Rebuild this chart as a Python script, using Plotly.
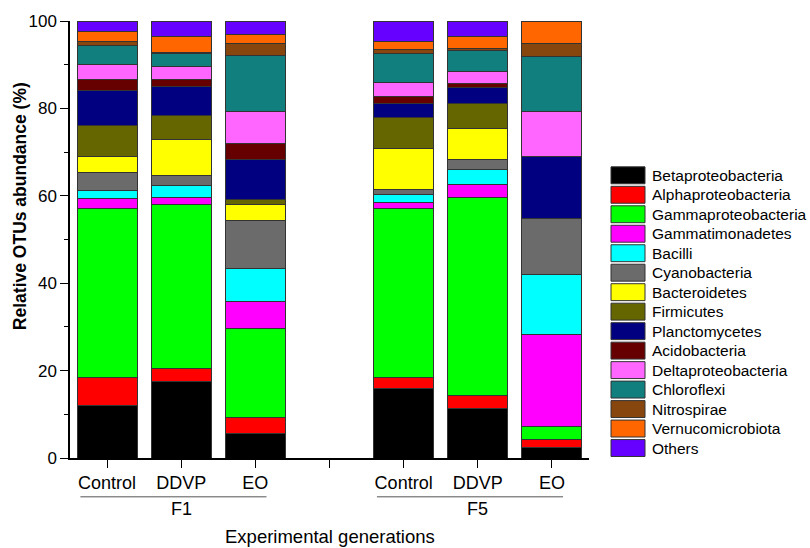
import plotly.graph_objects as go

# Sample layout: two experimental generations, three treatments each
generations = ["F1", "F5"]
treatments = ["Control", "DDVP", "EO"]

# Relative OTU abundance (%) per taxon, order: F1 Control, F1 DDVP, F1 EO, F5 Control, F5 DDVP, F5 EO
taxa = [
    "Betaproteobacteria", "Alphaproteobacteria", "Gammaproteobacteria", "Gammatimonadetes",
    "Bacilli", "Cyanobacteria", "Bacteroidetes", "Firmicutes", "Planctomycetes",
    "Acidobacteria", "Deltaproteobacteria", "Chloroflexi", "Nitrospirae",
    "Vernucomicrobiota", "Others",
]
betaproteobacteria = [12.0, 17.4, 5.5, 15.9, 11.3, 2.5]
alphaproteobacteria = [6.5, 3.0, 3.8, 2.6, 3.1, 1.7]
gammaproteobacteria = [38.7, 37.5, 20.4, 38.6, 45.2, 3.0]
gammatimonadetes = [2.2, 1.8, 6.1, 1.3, 2.9, 21.1]
bacilli = [1.9, 2.6, 7.6, 2.0, 3.5, 13.7]
cyanobacteria = [4.1, 2.4, 10.9, 1.0, 2.4, 12.7]
bacteroidetes = [3.5, 8.1, 3.8, 9.5, 7.1, 0.0]
firmicutes = [7.2, 5.6, 1.0, 7.1, 5.7, 0.0]
planctomycetes = [8.0, 6.5, 9.1, 3.1, 3.6, 14.2]
acidobacteria = [2.6, 1.8, 3.8, 1.6, 0.9, 0.0]
deltaproteobacteria = [3.3, 2.8, 7.3, 3.3, 2.8, 10.3]
chloroflexi = [4.4, 3.0, 12.7, 6.5, 4.8, 12.7]
nitrospirae = [1.0, 0.4, 2.8, 1.0, 0.3, 2.9]
vernucomicrobiota = [2.2, 3.6, 2.2, 1.9, 2.9, 5.2]
others = [2.4, 3.5, 3.0, 4.6, 3.5, 0.0]

series = [
    betaproteobacteria, alphaproteobacteria, gammaproteobacteria, gammatimonadetes,
    bacilli, cyanobacteria, bacteroidetes, firmicutes, planctomycetes,
    acidobacteria, deltaproteobacteria, chloroflexi, nitrospirae,
    vernucomicrobiota, others,
]
colors = [
    "#000000", "#FF0000", "#00FF00", "#FF00FF", "#00FFFF", "#6B6B6B", "#FFFF00",
    "#666600", "#000080", "#660000", "#FF66FF", "#127F7F", "#88460F", "#FF6600", "#6600FF",
]

# Positions: each generation gets one slot per treatment plus an empty spacer slot
slot = len(treatments) + 1
x_pos = [g * slot + t for g in range(len(generations)) for t in range(len(treatments))]
tick_vals = list(range(len(generations) * slot - 1))
tick_text = [treatments[v % slot] if v % slot < len(treatments) else "" for v in tick_vals]

FONT = "Arial, Liberation Sans, sans-serif"
W, H = 810, 548
L, R, T, B = 70, 221, 19, 90
PW, PH = W - L - R, H - T - B


def px_x(px):
    return (px - L) / PW


def px_y(py):
    return (H - B - py) / PH


fig = go.Figure()
for name, vals, col in zip(taxa, series, colors):
    fig.add_trace(go.Bar(
        x=x_pos, y=vals, name=name, width=0.81,
        marker=dict(color=col, line=dict(color="#333333", width=1)),
        showlegend=False,
    ))

shapes = []
annotations = []

# Legend drawn as swatches + labels on the right
leg_top, leg_step = 174, 19.57
for i, (name, col) in enumerate(zip(taxa, colors)):
    cy = leg_top + i * leg_step
    shapes.append(dict(
        type="rect", xref="paper", yref="paper",
        x0=px_x(611), x1=px_x(645), y0=px_y(cy + 8.5), y1=px_y(cy - 8.5),
        fillcolor=col, line=dict(color="#333333", width=1),
    ))
    annotations.append(dict(
        text=name, xref="paper", yref="paper", x=px_x(650), y=px_y(cy),
        xanchor="left", yanchor="middle", showarrow=False,
        font=dict(family=FONT, size=15.5, color="black"),
    ))

# Generation group brackets under the treatment labels
for g, gen in enumerate(generations):
    first = g * slot
    last = first + len(treatments) - 1
    shapes.append(dict(
        type="line", xref="x", yref="paper",
        x0=first - 0.36, x1=last + 0.15, y0=px_y(497), y1=px_y(497),
        line=dict(color="#555555", width=1),
    ))
    annotations.append(dict(
        text=gen, xref="x", yref="paper", x=(first + last) / 2, y=px_y(509),
        xanchor="center", yanchor="middle", showarrow=False,
        font=dict(family=FONT, size=18, color="black"),
    ))

annotations.append(dict(
    text="Experimental generations", xref="x", yref="paper",
    x=(tick_vals[0] + tick_vals[-1]) / 2, y=px_y(536.5),
    xanchor="center", yanchor="middle", showarrow=False,
    font=dict(family=FONT, size=18.5, color="black"),
))
annotations.append(dict(
    text="<b>Relative OTUs abundance (%)</b>", xref="paper", yref="paper",
    x=px_x(20), y=px_y(205), textangle=-90,
    xanchor="center", yanchor="middle", showarrow=False,
    font=dict(family=FONT, size=17.5, color="black"),
))

fig.update_layout(
    width=W, height=H,
    margin=dict(l=L, r=R, t=T, b=B),
    barmode="stack",
    plot_bgcolor="white", paper_bgcolor="white",
    font=dict(family=FONT, color="black"),
    shapes=shapes, annotations=annotations,
    xaxis=dict(
        range=[-0.5, tick_vals[-1] + 0.5],
        tickvals=tick_vals, ticktext=tick_text,
        ticks="outside", ticklen=8, tickwidth=1.2, tickcolor="black",
        showline=True, linecolor="black", linewidth=1.5,
        showgrid=False, zeroline=False,
        tickfont=dict(family=FONT, size=18),
    ),
    yaxis=dict(
        range=[0, 100], dtick=20,
        ticks="outside", ticklen=8, tickwidth=1.2, tickcolor="black",
        minor=dict(dtick=10, ticks="outside", ticklen=4, tickcolor="black", tickwidth=1.2),
        showline=True, linecolor="black", linewidth=1.5,
        showgrid=False, zeroline=False,
        tickfont=dict(family=FONT, size=17),
    ),
)

fig.write_html("out.html")
